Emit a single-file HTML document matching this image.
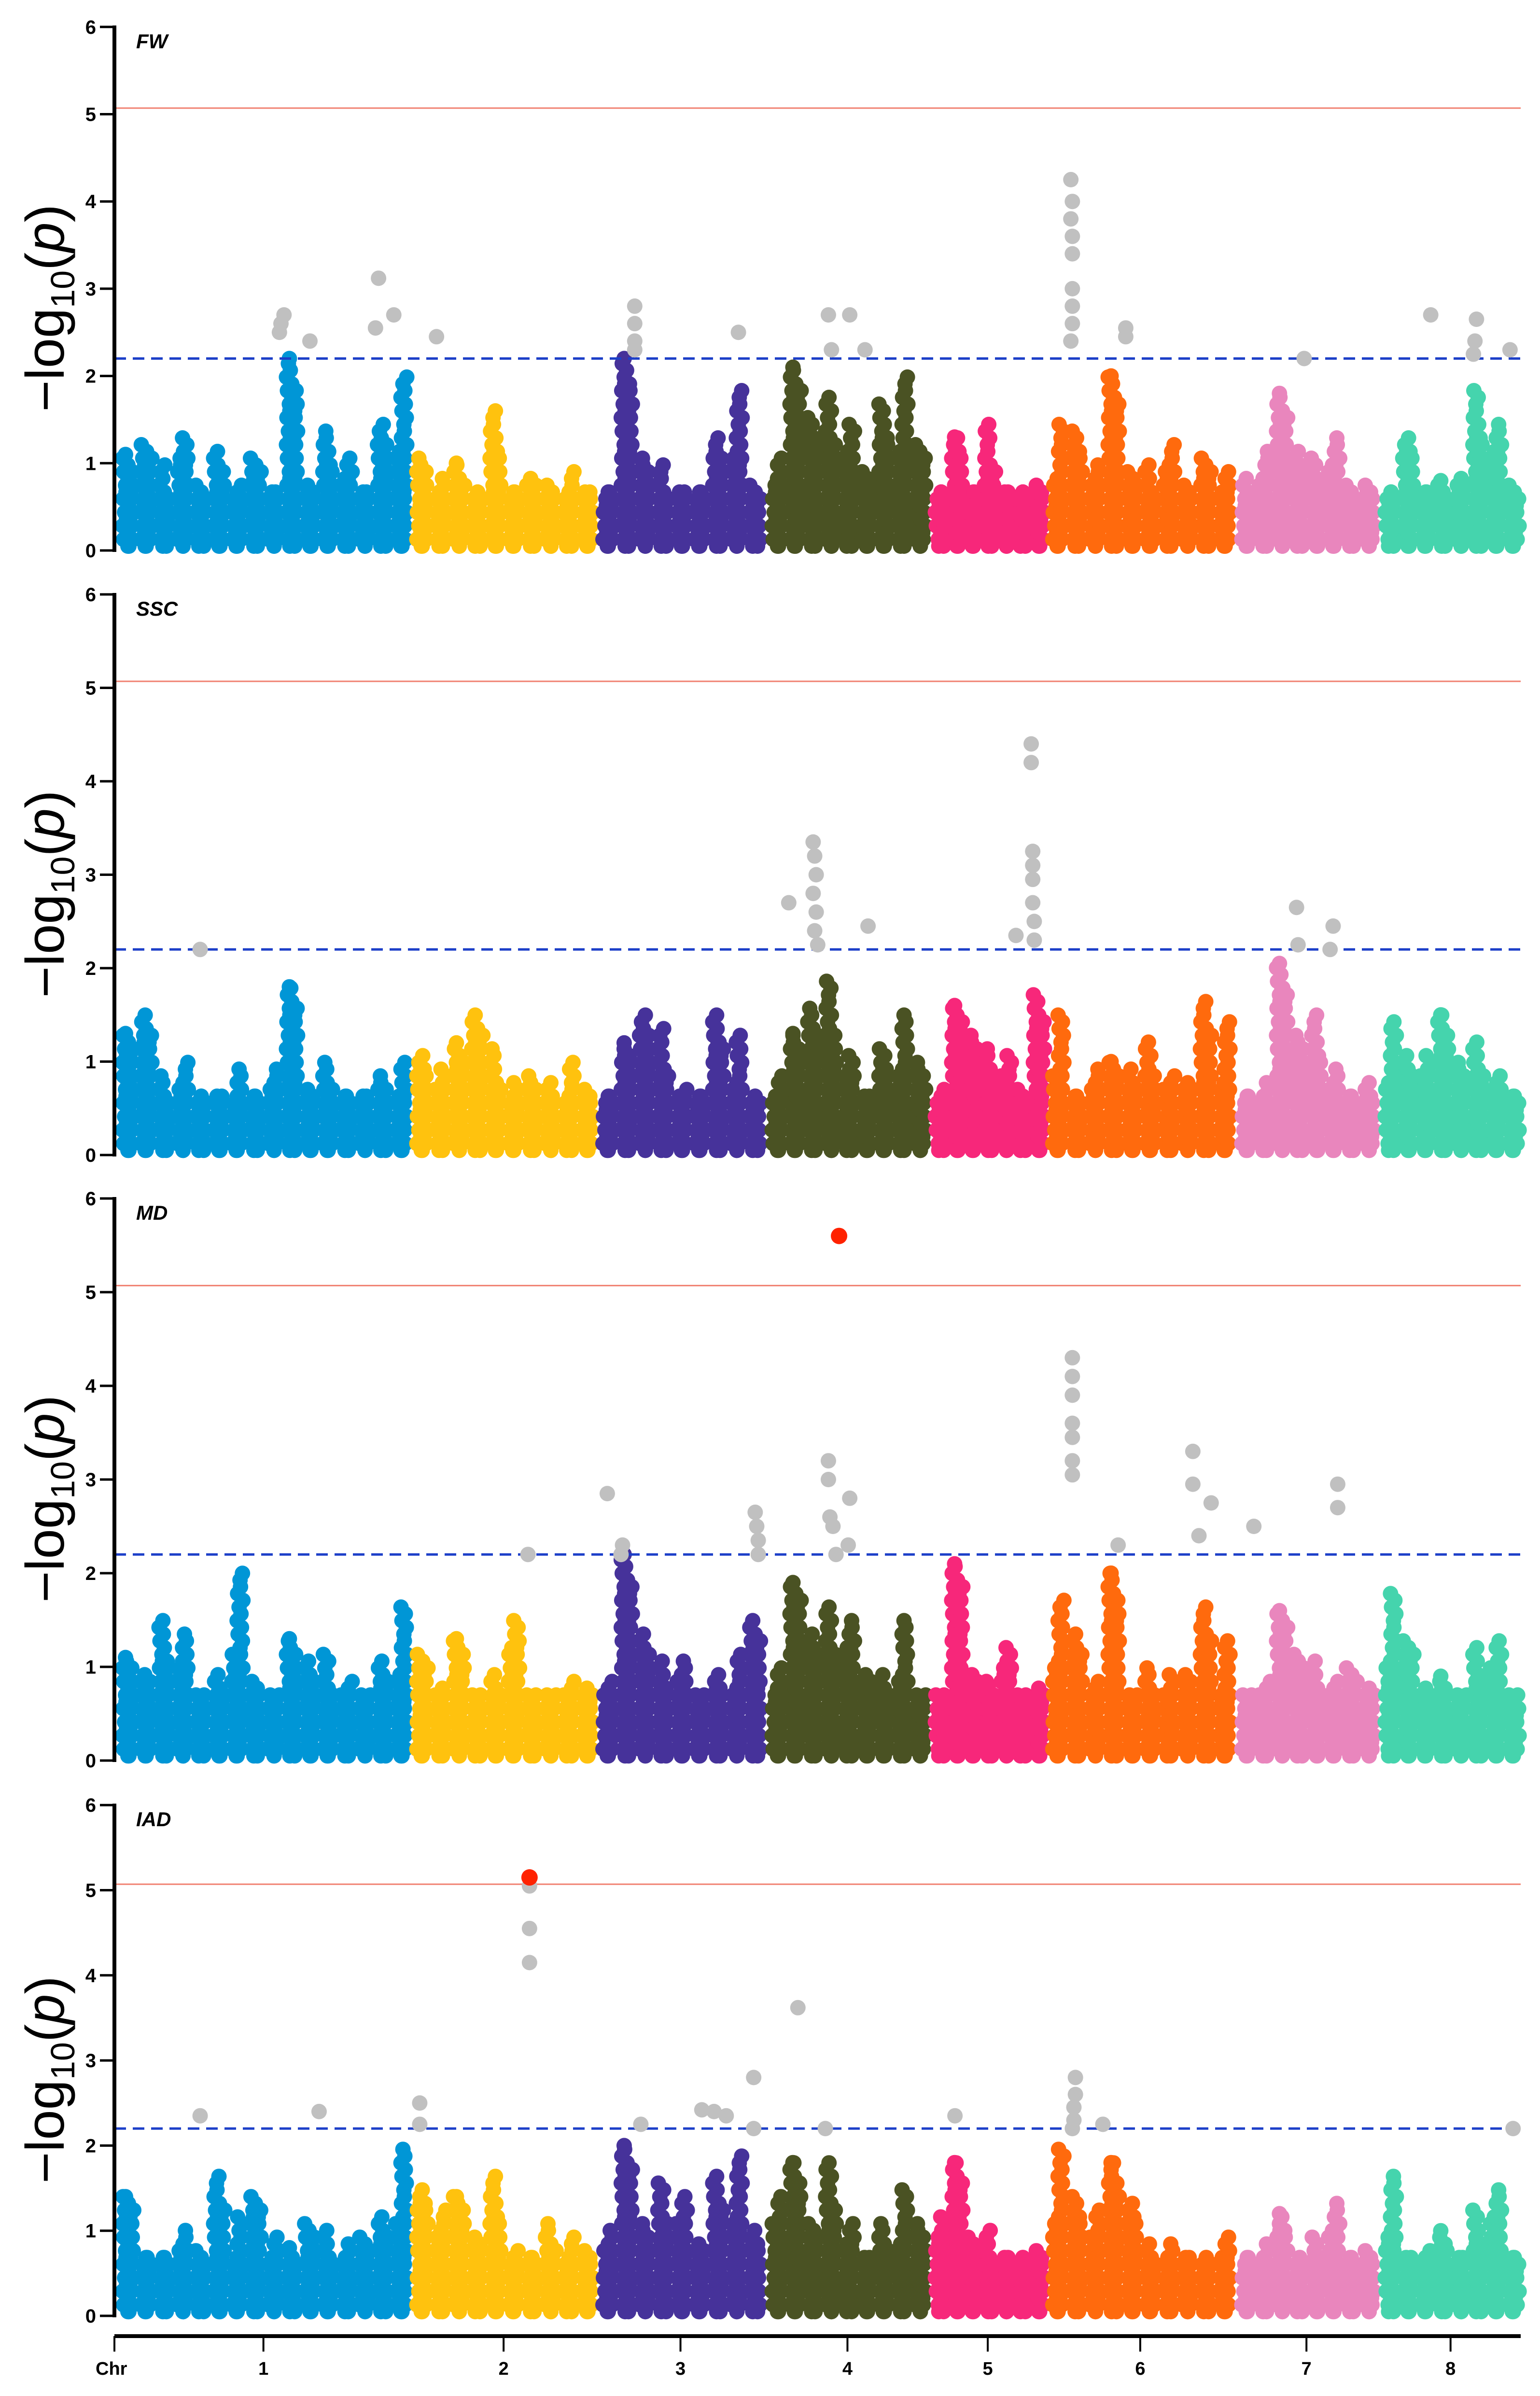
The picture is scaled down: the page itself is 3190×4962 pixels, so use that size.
<!DOCTYPE html>
<html><head><meta charset="utf-8"><style>
html,body{margin:0;padding:0;background:#fff}
svg{display:block}
text{font-family:"Liberation Sans",Arial,sans-serif}
</style></head><body>
<svg id="chart" width="3190" height="4962" viewBox="0 0 3190 4962" xmlns="http://www.w3.org/2000/svg"></svg>
<script>
// ---- data ----
const chromosomes = ["1","2","3","4","5","6","7","8"];
const chrStarts = [0,193,315,426,533,610,734,828];
const chrLengths = [191,120,108,105,75,121,91,92];
const chrColors = ["#0096d6","#ffc20e","#46329a","#4a5223","#f7277a","#ff6a0d","#e986bd","#45d4ad"];
const traits = ["FW","SSC","MD","IAD"];
const yTicks = [0,1,2,3,4,5,6];
const suggestiveLine = 2.2;
const genomeWideLine = 5.07;

// per-bin peak -log10(p) for each chromosome
const fwBins = [
 [1.1,1.7,1.2,1.95,1.5,1.5,0.8,1.55,0.65,2.2,1.0,1.65,1.6,1.3,1.9,2.1],
 [1.6,1.3,1.0,0.9,1.9,1.0,1.8,1.0,1.0,0.8],
 [0.9,2.2,1.5,1.2,1.0,1.1,1.7,2.0,1.1],
 [1.7,2.1,2.1,2.1,2.1,1.9,2.1,2.1,1.8],
 [0.8,1.3,0.7,1.75,1.0,1.3,1.0],
 [1.6,2.0,1.6,2.0,1.3,1.2,1.8,1.5,1.4,1.0],
 [1.2,1.8,1.8,1.6,1.3,1.9,1.6,1.0],
 [0.7,1.9,1.0,0.8,1.2,2.2,2.1,1.6]];
const sscBins = [
 [1.3,2.0,1.0,1.5,1.3,0.7,1.0,0.9,1.5,1.8,1.0,1.2,0.8,1.0,1.1,1.1],
 [1.6,1.5,1.2,2.0,1.4,1.2,1.7,1.0,1.1,1.1],
 [1.0,1.2,2.0,1.6,1.1,1.4,1.9,1.4,1.0],
 [1.4,1.3,2.1,2.2,1.6,1.2,1.5,1.6,1.5],
 [1.1,1.6,1.8,1.4,1.6,1.5,2.2],
 [1.6,1.0,1.5,1.0,1.3,1.5,1.3,1.6,2.1,1.5],
 [1.0,1.2,2.05,1.8,1.8,1.4,1.3,1.0],
 [1.5,1.6,1.7,1.5,1.4,1.5,1.3,1.1]];
const mdBins = [
 [1.1,1.3,1.8,2.0,1.3,1.2,2.15,1.3,1.0,1.3,1.5,1.4,1.3,1.0,1.4,1.75],
 [1.7,1.2,1.3,1.0,1.1,2.2,1.0,0.8,0.9,1.2],
 [1.3,2.2,1.8,1.3,1.6,1.4,1.2,1.2,2.2],
 [1.6,1.9,1.8,2.0,2.2,1.9,1.2,1.6,1.0],
 [1.0,2.1,1.3,1.0,1.8,1.5,1.0],
 [1.8,2.0,1.3,2.0,1.0,1.2,1.4,1.9,2.05,1.4],
 [1.0,1.4,1.6,1.6,1.3,1.3,2.1,1.0],
 [1.9,1.9,1.2,0.9,1.0,1.5,1.85,1.0]];
const iadBins = [
 [1.4,1.0,0.8,1.5,1.6,2.1,1.3,2.1,1.5,0.8,1.5,1.2,1.3,2.0,1.5,2.1],
 [2.2,2.0,1.4,1.3,2.0,1.2,0.7,1.4,1.0,1.1],
 [1.6,2.0,1.5,1.9,2.0,1.8,2.1,2.0,1.5],
 [2.2,1.8,1.5,2.2,1.6,1.4,1.4,1.6,1.6],
 [1.9,1.8,1.3,1.2,0.9,1.5,1.0],
 [2.1,2.0,2.0,1.8,1.8,1.0,1.3,1.2,0.9,1.0],
 [0.9,1.4,1.2,0.9,1.1,1.9,1.4,1.0],
 [1.8,0.9,1.2,1.0,0.9,1.5,2.15,1.0]];

// suggestive hits: cumulative position and -log10(p)
const fwHitPos = [107,109,106,126,169,171,181,209,339,339,339,339,407,466,480,468,490,625,626,625,626,626,626,626,626,625,661,661,778,861,891,890,889,913];
const fwHitVal = [2.6,2.7,2.5,2.4,2.55,3.12,2.7,2.45,2.8,2.6,2.4,2.3,2.5,2.7,2.7,2.3,2.3,4.25,4.0,3.8,3.6,3.4,3.0,2.8,2.6,2.4,2.55,2.45,2.2,2.7,2.65,2.4,2.25,2.3];
const sscHitPos = [54,440,456,457,458,456,458,457,459,492,589,599,599,600,600,600,600,601,601,773,774,797,795];
const sscHitVal = [2.2,2.7,3.35,3.2,3.0,2.8,2.6,2.4,2.25,2.45,2.35,4.4,4.2,3.25,3.1,2.95,2.7,2.5,2.3,2.65,2.25,2.45,2.2];
const mdHitPos = [269,321,331,330,418,419,420,420,466,466,467,469,480,479,471,626,626,626,626,626,626,626,656,705,705,717,709,745,800,800];
const mdHitVal = [2.2,2.85,2.3,2.2,2.65,2.5,2.35,2.2,3.2,3.0,2.6,2.5,2.8,2.3,2.2,4.3,4.1,3.9,3.6,3.45,3.2,3.05,2.3,3.3,2.95,2.75,2.4,2.5,2.95,2.7];
const iadHitPos = [54,132,198,198,270,270,270,343,383,391,399,417,417,446,464,549,628,628,627,627,626,646,915];
const iadHitVal = [2.35,2.4,2.5,2.25,5.05,4.55,4.15,2.25,2.42,2.4,2.35,2.8,2.2,3.62,2.2,2.35,2.8,2.6,2.45,2.3,2.2,2.25,2.2];
// genome-wide significant hits
const mdSigPos = [473];
const mdSigVal = [5.6];
const iadSigPos = [270];
const iadSigVal = [5.15];

// ---- layout ----
const NS = "http://www.w3.org/2000/svg";
const svg = document.getElementById("chart");
const X0 = 244, X1 = 3150, GENOME = 920;
const AXIS_X = 237;
const panels = [
 {y0:1140, unit:180.7, bins:fwBins, hp:fwHitPos, hv:fwHitVal, sp:[], sv:[]},
 {y0:2392, unit:193.5, bins:sscBins, hp:sscHitPos, hv:sscHitVal, sp:[], sv:[]},
 {y0:3646, unit:194, bins:mdBins, hp:mdHitPos, hv:mdHitVal, sp:mdSigPos, sv:mdSigVal},
 {y0:4796, unit:176.3, bins:iadBins, hp:iadHitPos, hv:iadHitVal, sp:iadSigPos, sv:iadSigVal}];
function xScale(pos){ return X0 + pos*(X1-X0)/GENOME; }
function mk(tag, attrs, parent){ const e=document.createElementNS(NS,tag); for(const k in attrs) e.setAttribute(k,attrs[k]); (parent||svg).appendChild(e); return e; }
const R = 16;
const pattern = [1,.9,.75,.65,.85,.6,.55,.7,.5,.45,.8,.65,.55,.95,.7,.6,.5,.65];
const wobble = [0,5,-4,3,-6,2,-2,6,-5,1];

panels.forEach((p,pi)=>{
  const yS = v => p.y0 - v*p.unit;
  const g = mk("g",{});
  
  
  const pts = mk("g",{}, g);
  
  
  let pc = 0;
  p.bins.forEach((bins,ci)=>{
    const cg = mk("g",{fill:chrColors[ci]}, pts);
    
    
    const bw = chrLengths[ci]/bins.length;
    bins.forEach((h,bi)=>{
      const xa = xScale(chrStarts[ci]+bi*bw), xb = xScale(chrStarts[ci]+(bi+1)*bw);
      for(let x=xa+R; x<=xb-2; x+=11){
        const f = pattern[pc % pattern.length];
        pc++;
        const hh = Math.max(0.7, h*f);
        const top = yS(hh), bot = yS(0.05);
        let row = 0;
        for(let y=bot; y>=top-0.1; y-=14){
          const c = mk("circle",{cx:(x+wobble[(row+pc)%wobble.length]).toFixed(1), cy:y.toFixed(1), r:R}, cg);
          
          
          row++;
        }
        if(f===1){
          const c = mk("circle",{cx:x.toFixed(1), cy:yS(h).toFixed(1), r:R}, cg);
          
          
        }
      }
    });
  });
  const rl = mk("line",{x1:AXIS_X,x2:X1,y1:yS(genomeWideLine),y2:yS(genomeWideLine),stroke:"#f08070","stroke-width":3}, g);
  
  
  const bl = mk("line",{x1:AXIS_X,x2:X1,y1:yS(suggestiveLine),y2:yS(suggestiveLine),stroke:"#1c3fc8","stroke-width":5,"stroke-dasharray":"24 14"}, g);
  
  
  p.hp.forEach((pos,i)=>{
    const c = mk("circle",{cx:xScale(pos),cy:yS(p.hv[i]),r:R,fill:"#c0c0c0"}, g);
    
    
  });
  p.sp.forEach((pos,i)=>{
    const c = mk("circle",{cx:xScale(pos),cy:yS(p.sv[i]),r:R+1,fill:"#ff2200"}, g);
    
    
  });
  const ax = mk("line",{x1:AXIS_X,x2:AXIS_X,y1:yS(6)-3,y2:p.y0+3,stroke:"#000","stroke-width":8}, g);
  
  
  yTicks.forEach(t=>{
    const tk = mk("line",{x1:AXIS_X-30,x2:AXIS_X,y1:yS(t),y2:yS(t),stroke:"#000","stroke-width":5}, g);
    
    
    const tl = mk("text",{x:AXIS_X-38,y:yS(t)+14,"font-size":40,"font-weight":"bold","text-anchor":"end"}, g);
    tl.textContent = t;
    
    
  });
  const lab = mk("text",{x:282,y:yS(6)+44,"font-size":42,"font-weight":"bold","font-style":"italic"}, g);
  lab.textContent = traits[pi];
  
  
  const cy = (yS(6)+p.y0)/2 + 40;
  const yt = mk("text",{x:0,y:0,"font-size":112,"text-anchor":"middle",transform:`translate(132 ${cy}) rotate(-90)`}, g);
  yt.innerHTML = '\u2212log<tspan font-size="70" dy="22">10</tspan><tspan dy="-22">(</tspan><tspan font-style="italic">p</tspan>)';
  
  
});

const xa = mk("line",{x1:AXIS_X,x2:X1,y1:4838,y2:4838,stroke:"#000","stroke-width":8});


const t0 = mk("line",{x1:AXIS_X,x2:AXIS_X,y1:4838,y2:4870,stroke:"#000","stroke-width":4});


const chrL = mk("text",{x:198,y:4918,"font-size":38,"font-weight":"bold"});
chrL.textContent = "Chr";


chromosomes.forEach((c,i)=>{
  const x = xScale(chrStarts[i]+chrLengths[i]/2);
  const tk = mk("line",{x1:x,x2:x,y1:4838,y2:4870,stroke:"#000","stroke-width":4});
  
  
  const tl = mk("text",{x:x,y:4918,"font-size":38,"font-weight":"bold","text-anchor":"middle"});
  tl.textContent = c;
  
  
});
</script>
</body></html>
